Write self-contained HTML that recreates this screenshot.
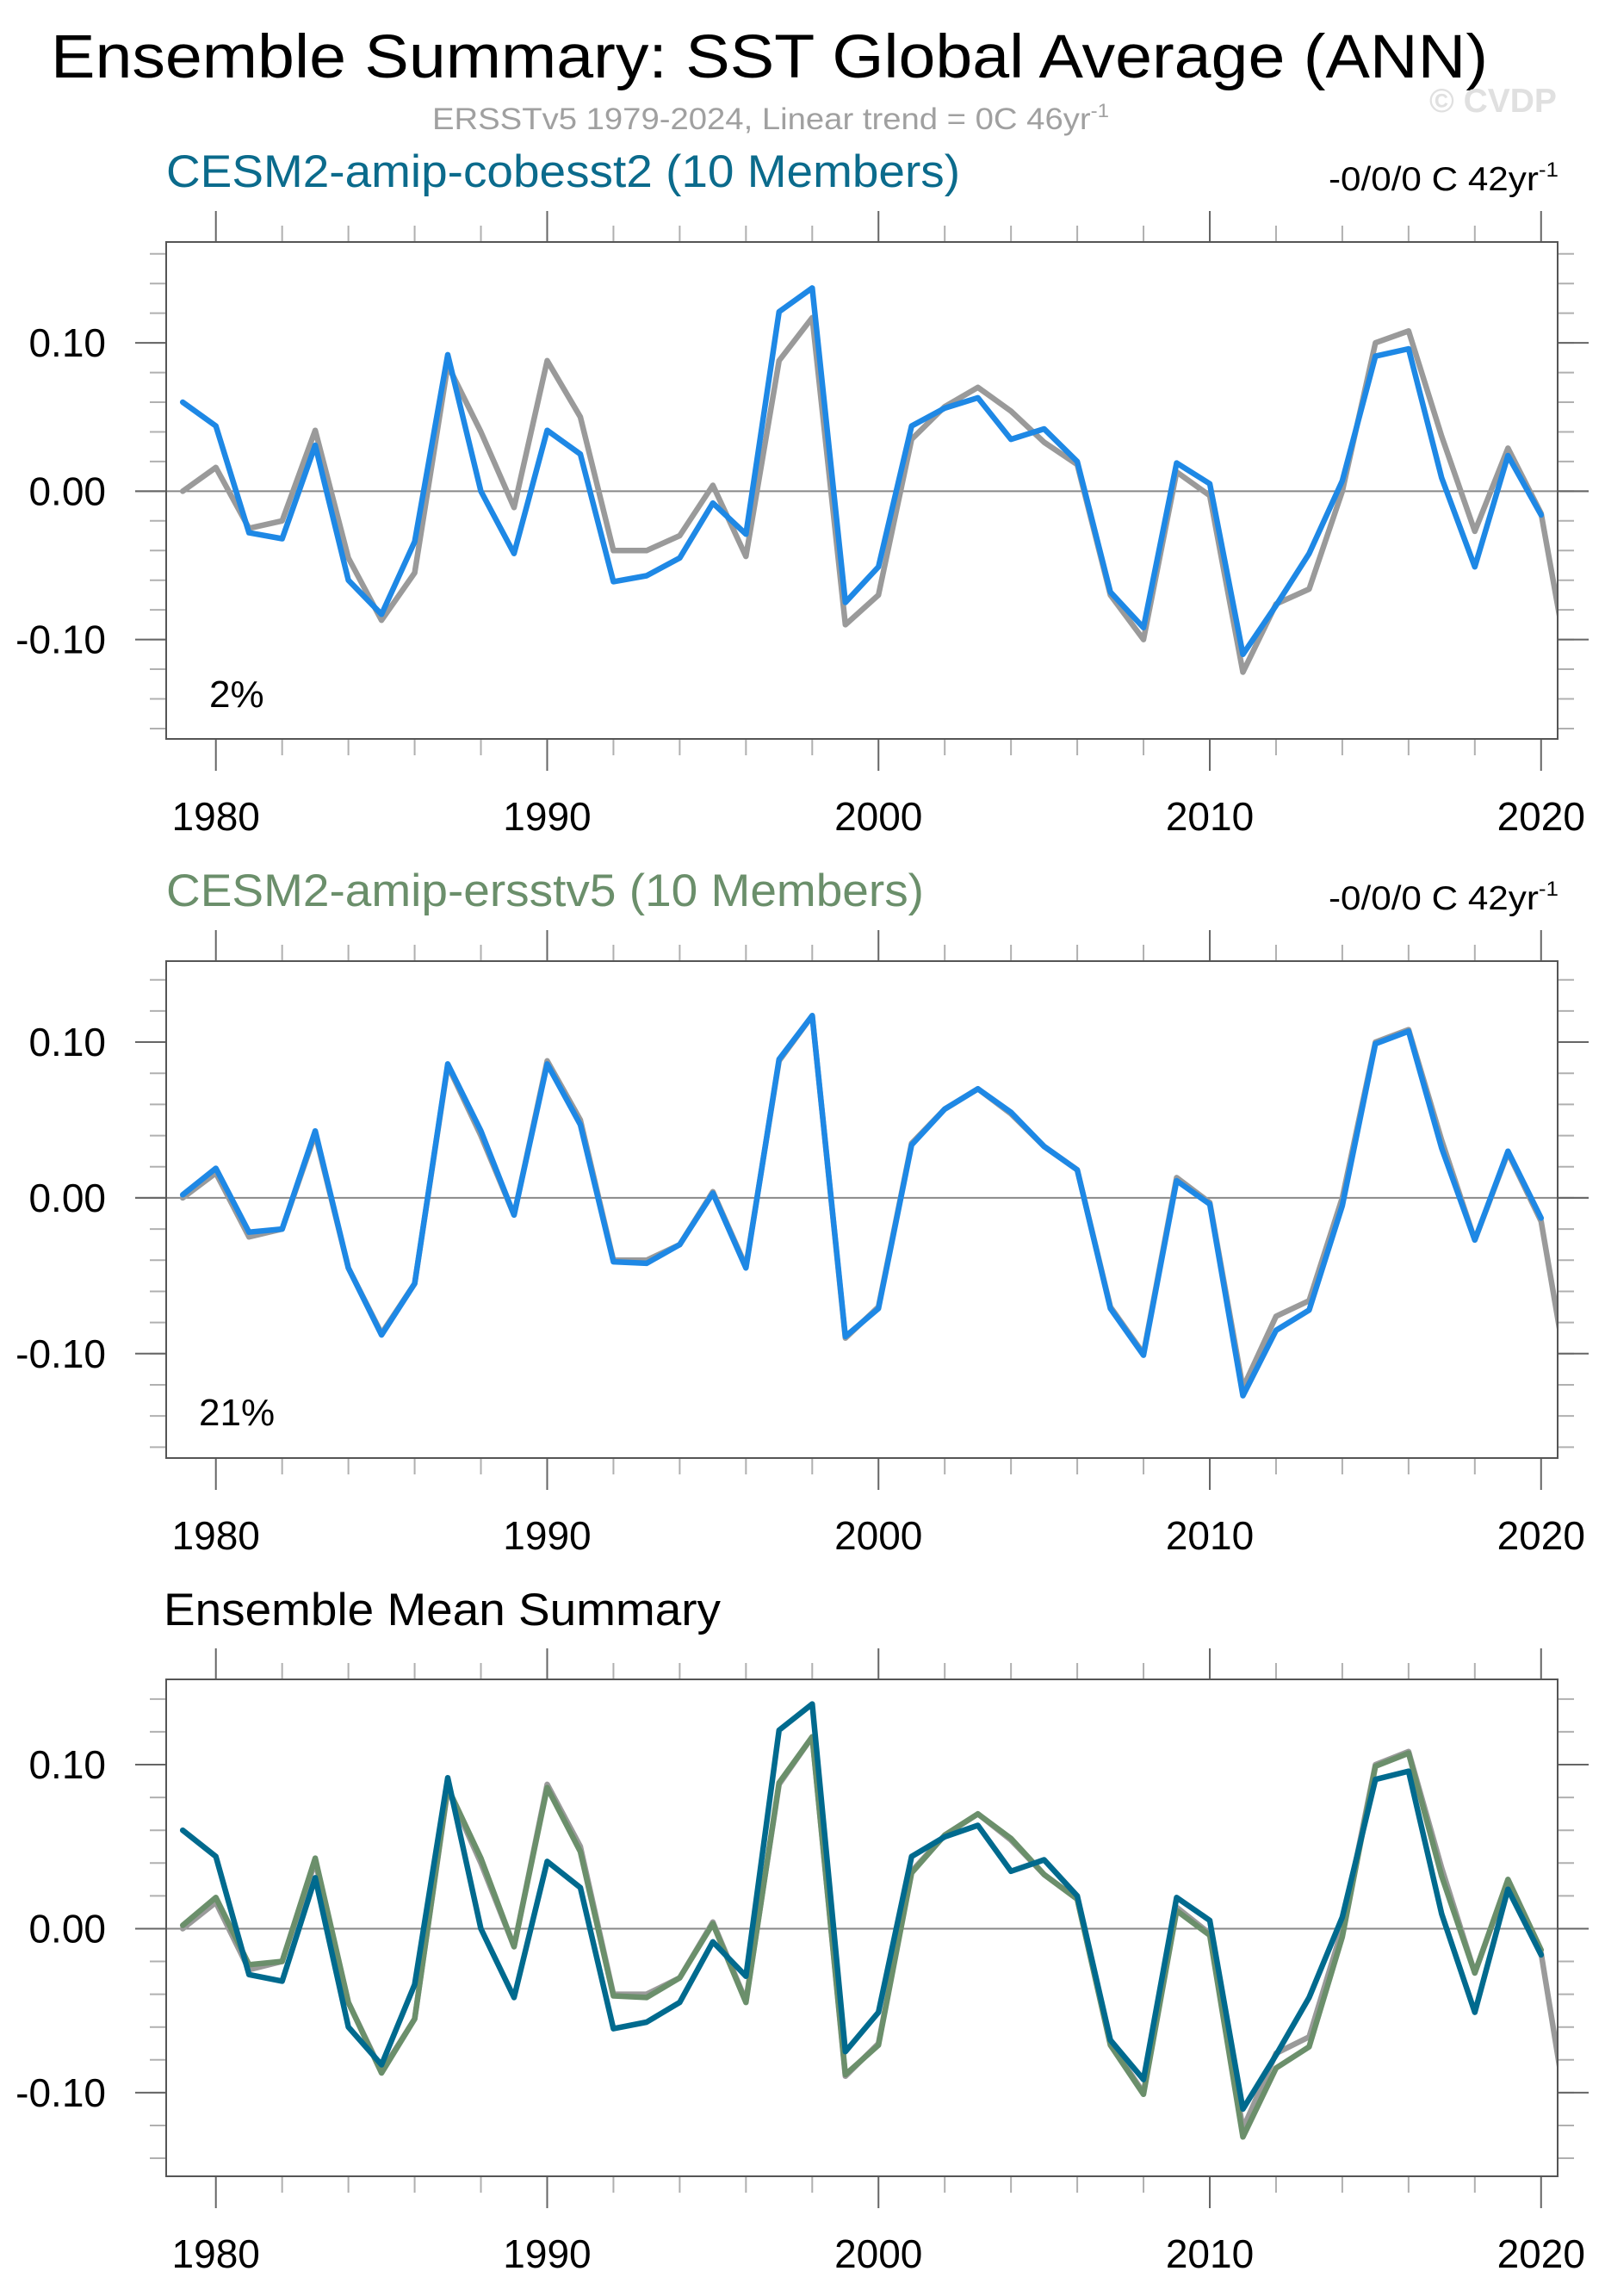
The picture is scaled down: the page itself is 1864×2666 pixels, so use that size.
<!DOCTYPE html>
<html><head><meta charset="utf-8"><style>
html,body{margin:0;padding:0;background:#fff;}
svg{display:block;font-family:"Liberation Sans",Arial,sans-serif;}
</style></head><body>
<svg id="chart" width="1864" height="2666" viewBox="0 0 1864 2666">
<text x="59" y="90" font-size="71" textLength="1669" lengthAdjust="spacingAndGlyphs" fill="#000">Ensemble Summary: SST Global Average (ANN)</text>
<text x="502" y="150" font-size="35" textLength="786" lengthAdjust="spacingAndGlyphs" fill="#a0a0a0">ERSSTv5 1979-2024, Linear trend = 0C 46yr<tspan dy="-14" font-size="22">-1</tspan></text>
<text x="1660" y="130" font-size="39" font-weight="bold" fill="#e0e0e0">© CVDP</text>
<text x="193" y="217" font-size="53" textLength="922" lengthAdjust="spacingAndGlyphs" fill="#0b6b8c">CESM2-amip-cobesst2 (10 Members)</text>
<text x="1543" y="221" font-size="39" textLength="267" lengthAdjust="spacingAndGlyphs" fill="#000">-0/0/0 C 42yr<tspan dy="-16" font-size="24">-1</tspan></text>
<text x="193" y="1052" font-size="53" textLength="880" lengthAdjust="spacingAndGlyphs" fill="#6b8f6b">CESM2-amip-ersstv5 (10 Members)</text>
<text x="1543" y="1056" font-size="39" textLength="267" lengthAdjust="spacingAndGlyphs" fill="#000">-0/0/0 C 42yr<tspan dy="-16" font-size="24">-1</tspan></text>
<text x="190" y="1887" font-size="53" textLength="647" lengthAdjust="spacingAndGlyphs" fill="#000">Ensemble Mean Summary</text>
<text x="243" y="821" font-size="44" fill="#000">2%</text>
<text x="231" y="1655" font-size="44" fill="#000">21%</text>
</svg>
<script>
const years = [1979,1980,1981,1982,1983,1984,1985,1986,1987,1988,1989,1990,1991,1992,1993,1994,1995,1996,1997,1998,1999,2000,2001,2002,2003,2004,2005,2006,2007,2008,2009,2010,2011,2012,2013,2014,2015,2016,2017,2018,2019,2020];
const obsYears = [1979,1980,1981,1982,1983,1984,1985,1986,1987,1988,1989,1990,1991,1992,1993,1994,1995,1996,1997,1998,1999,2000,2001,2002,2003,2004,2005,2006,2007,2008,2009,2010,2011,2012,2013,2014,2015,2016,2017,2018,2019,2020,2021];
const obsErsst = [0.000,0.016,-0.025,-0.020,0.041,-0.045,-0.087,-0.055,0.085,0.040,-0.011,0.088,0.050,-0.040,-0.040,-0.030,0.004,-0.044,0.088,0.117,-0.090,-0.070,0.035,0.057,0.070,0.054,0.033,0.018,-0.070,-0.100,0.013,-0.003,-0.122,-0.076,-0.066,0.000,0.100,0.108,0.037,-0.027,0.029,-0.015,-0.139];
const cobesst2Mean = [0.060,0.044,-0.028,-0.032,0.031,-0.060,-0.083,-0.034,0.092,0.000,-0.042,0.041,0.025,-0.061,-0.057,-0.045,-0.008,-0.029,0.121,0.137,-0.075,-0.051,0.044,0.056,0.063,0.035,0.042,0.020,-0.068,-0.092,0.019,0.005,-0.110,-0.077,-0.042,0.007,0.091,0.096,0.009,-0.051,0.024,-0.016];
const ersstv5Mean = [0.002,0.019,-0.022,-0.020,0.043,-0.045,-0.088,-0.055,0.086,0.043,-0.011,0.086,0.047,-0.041,-0.042,-0.030,0.003,-0.045,0.089,0.117,-0.089,-0.071,0.034,0.057,0.070,0.055,0.033,0.018,-0.071,-0.101,0.011,-0.004,-0.127,-0.085,-0.072,-0.005,0.099,0.107,0.032,-0.027,0.030,-0.013];
const yTickValues = [-0.10,0.00,0.10];
const yTickLabels = ["-0.10","0.00","0.10"];
const xTickValues = [1980,1990,2000,2010,2020];
const xTickLabels = ["1980","1990","2000","2010","2020"];

const NS = "http://www.w3.org/2000/svg";
const svg = document.getElementById('chart');
const X0 = 193, X1 = 1809, XMIN = 1978.5, XMAX = 2020.5, H = 577;
function mk(tag, attrs, parent){ const e=document.createElementNS(NS,tag); for(const k in attrs) e.setAttribute(k,attrs[k]); (parent||svg).appendChild(e); return e; }
function xs(v){ return X0 + (v-XMIN)/(XMAX-XMIN)*(X1-X0); }

const panels = [
  {id:'panel1', top:281, ymin:-0.167, ymax:0.168, series:[[obsYears,obsErsst,'#9a9a9a','obs-ersstv5-line'],[years,cobesst2Mean,'#1e88e5','cobesst2-mean-line']]},
  {id:'panel2', top:1116, ymin:-0.167, ymax:0.152, series:[[obsYears,obsErsst,'#9a9a9a','obs-ersstv5-line'],[years,ersstv5Mean,'#1e88e5','ersstv5-mean-line']]},
  {id:'panel3', top:1950, ymin:-0.151, ymax:0.152, series:[[obsYears,obsErsst,'#9a9a9a','obs-ersstv5-line'],[years,ersstv5Mean,'#6b8f6b','ersstv5-mean-line'],[years,cobesst2Mean,'#006a8e','cobesst2-mean-line']]}
];

panels.forEach(p=>{
  const T=p.top, B=T+H;
  const ys = v => B - (v-p.ymin)/(p.ymax-p.ymin)*H;
  const g = mk('g',{});
  
  
  for(let k=-8;k<=8;k++){
    const v=k*0.02; if(v<p.ymin||v>p.ymax) continue;
    const y=ys(v);
    const l=mk('path',{d:`M${X0-19},${y}H${X0}M${X1},${y}H${X1+19}`,stroke:'#b0b0b0','stroke-width':2},g);
    
    
  }
  for(let yr=1980; yr<=2020; yr+=2){
    if(yr%10===0) continue;
    const x=xs(yr);
    const l=mk('path',{d:`M${x},${T-19}V${T}M${x},${B}V${B+19}`,stroke:'#b0b0b0','stroke-width':2},g);
    
    
  }
  const z=mk('line',{x1:X0-36,x2:X1+36,y1:ys(0),y2:ys(0),stroke:'#888','stroke-width':2},g);
  
  
  yTickValues.forEach((v,i)=>{
    const y=ys(v);
    const l=mk('path',{d:`M${X0-36},${y}H${X0}M${X1},${y}H${X1+36}`,stroke:'#666','stroke-width':2},g);
    
    
    const t=mk('text',{x:123,y:y+16,'font-size':46,'text-anchor':'end',fill:'#000'},g);
    t.textContent=yTickLabels[i];
    
    
  });
  xTickValues.forEach((v,i)=>{
    const x=xs(v);
    const l=mk('path',{d:`M${x},${T-36}V${T}M${x},${B}V${B+37}`,stroke:'#666','stroke-width':2},g);
    
    
    const t=mk('text',{x:x,y:B+106,'font-size':46,'text-anchor':'middle',fill:'#000'},g);
    t.textContent=xTickLabels[i];
    
    
  });
  const cp=mk('clipPath',{id:p.id+'-clip'},g);
  mk('rect',{x:X0,y:T,width:X1-X0,height:H},cp);
  p.series.forEach(s=>{
    const [xv,yv,col,name]=s;
    const d=xv.map((yr,i)=>(i?'L':'M')+xs(yr).toFixed(1)+','+ys(yv[i]).toFixed(1)).join('');
    const path=mk('path',{d:d,fill:'none',stroke:col,'stroke-width':6.5,'stroke-linejoin':'round','stroke-linecap':'round','clip-path':`url(#${p.id}-clip)`},g);
    
    
  });
  const box=mk('rect',{x:X0,y:T,width:X1-X0,height:H,fill:'none',stroke:'#555','stroke-width':2},g);
  
  
});
</script>
</body></html>
